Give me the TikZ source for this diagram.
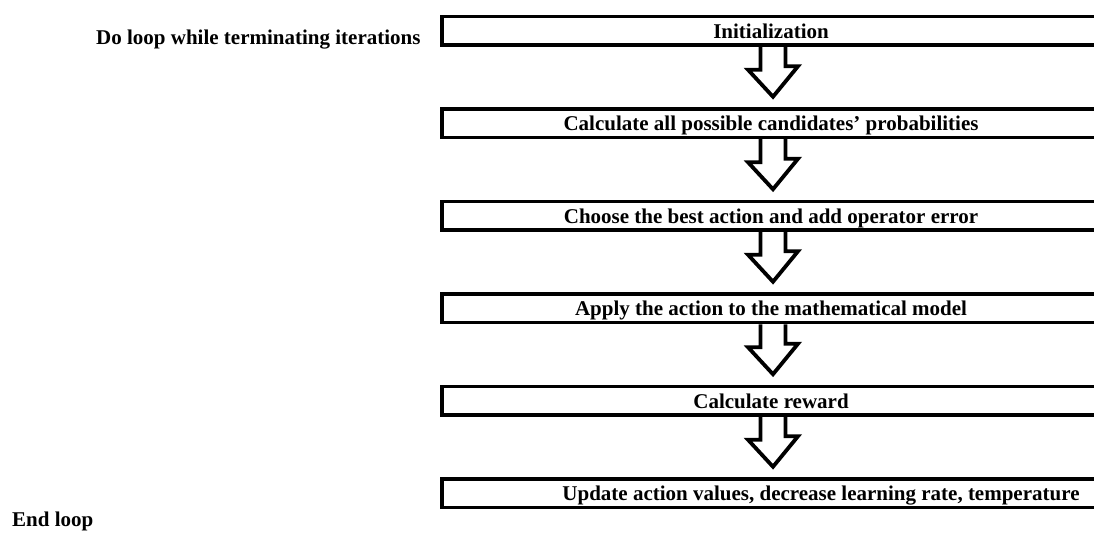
\documentclass[tikz,border=0pt]{standalone}
\usepackage{fontspec}
\setmainfont{Liberation Serif}
\usetikzlibrary{calc}

\begin{document}
\begin{tikzpicture}[x=1pt,y=-1pt,
        stepbox/.style={rectangle,draw,line width=3.5pt,minimum width=658pt,minimum height=28.5pt,
            inner sep=0pt,text height=15pt,text depth=0pt,font=\fontsize{21}{24}\selectfont\bfseries},
        looptext/.style={anchor=west,inner sep=0pt,font=\fontsize{21}{24}\selectfont\bfseries},
        blockarrow/.style={draw,line width=3.8pt,miter limit=10}]
    \useasboundingbox (0,0) rectangle (1094,534);
    \clip (0,0) rectangle (1094,534);

    % Loop labels
    \node[looptext] (doloop) at (96,40) {Do loop while terminating iterations};
    \node[looptext] (endloop) at (12,521) {End loop};

    % Boxes
    \node[stepbox] (b1) at (771,30.75) {Initialization};
    \node[stepbox] (b2) at (771,123.25) {Calculate all possible candidates’ probabilities};
    \node[stepbox] (b3) at (771,215.75) {Choose the best action and add operator error};
    \node[stepbox] (b4) at (771,308.25) {Apply the action to the mathematical model};
    \node[stepbox] (b5) at (771,400.75) {Calculate reward};
    \node[stepbox] (b6) at (771,493.25) {\hspace*{100pt}Update action values, decrease learning rate, temperature};

    % Arrows between boxes
    \foreach \a/\b in {b1/b2,b2/b3,b3/b4,b4/b5,b5/b6}
        \draw[blockarrow] ($(\a.south)+(-10.5,0)$) -- ++(0,23) -- ++(-12.5,0)
            -- ($(\b.north)+(2,-10.5)$) -- ++(25,-30.5) -- ++(-12.5,0)
            -- ($(\a.south)+(14.5,0)$);
\end{tikzpicture}
\end{document}
